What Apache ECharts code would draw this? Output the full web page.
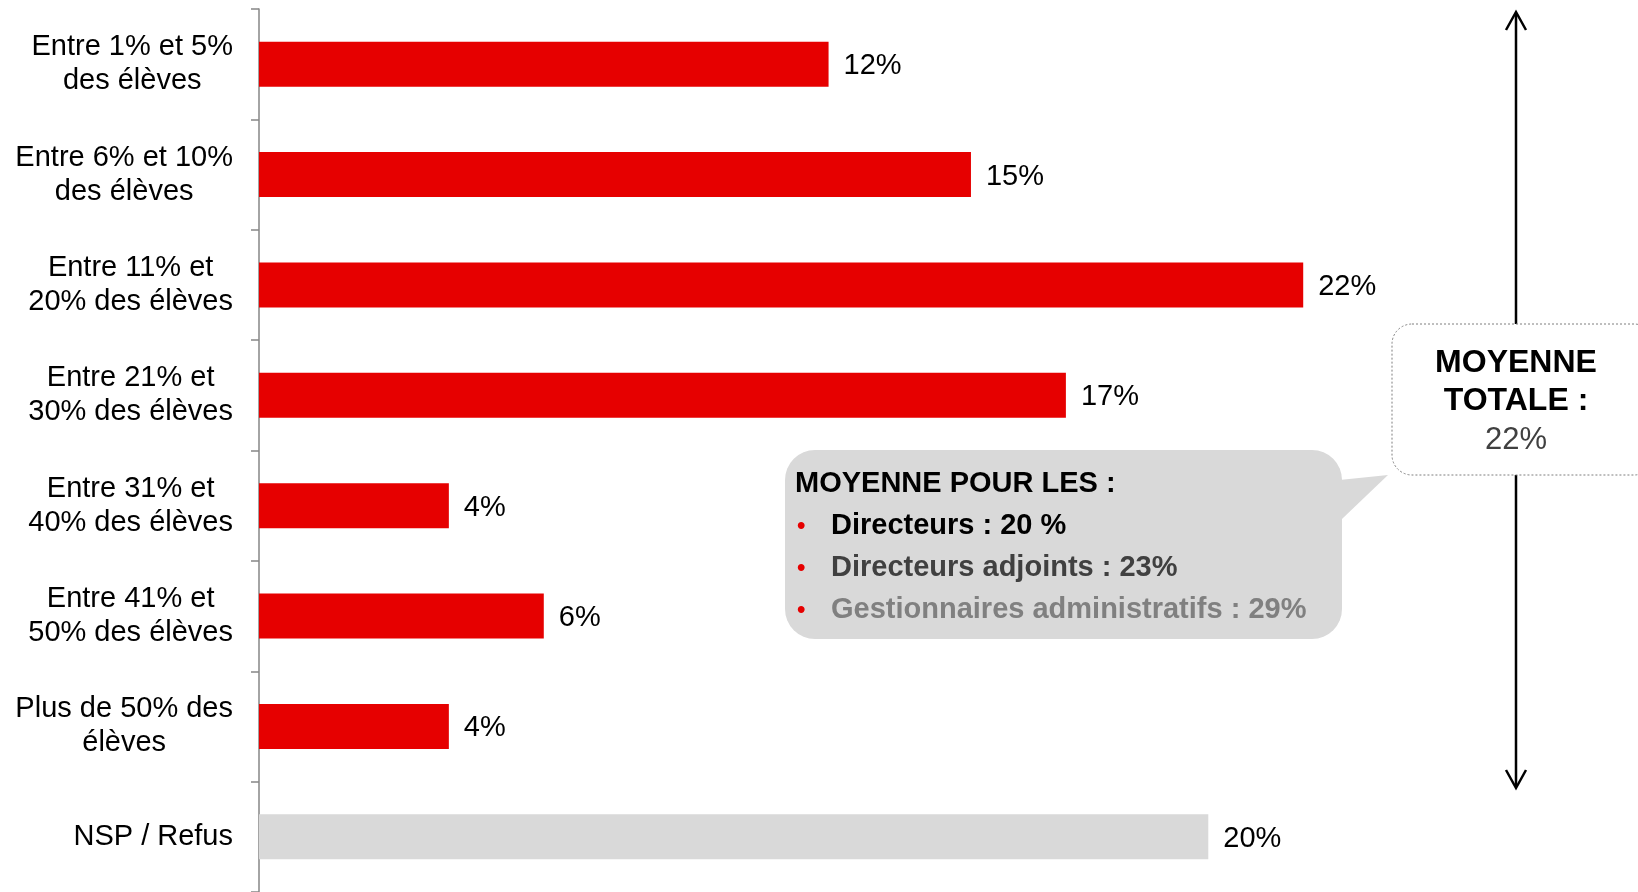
<!DOCTYPE html>
<html>
<head>
<meta charset="utf-8">
<script src="https://cdn.jsdelivr.net/npm/echarts@6/dist/echarts.min.js"></script>
<style>
  html, body { margin: 0; padding: 0; background: #fff; }
  #chart { width: 1638px; height: 892px; }
</style>
</head>
<body>
<div id="chart"></div>
<script>
// tranches de réponse
const categories = [
  'Entre 1% et 5%\ndes élèves',
  'Entre 6% et 10%\ndes élèves',
  'Entre 11% et\n20% des élèves',
  'Entre 21% et\n30% des élèves',
  'Entre 31% et\n40% des élèves',
  'Entre 41% et\n50% des élèves',
  'Plus de 50% des\nélèves',
  'NSP / Refus'
];
const values = [12, 15, 22, 17, 4, 6, 4, 20];

// moyennes par profil
const groupNames = ['Directeurs : 20 %', 'Directeurs adjoints : 23%', 'Gestionnaires administratifs : 29%'];
const groupColors = ['#000000', '#404040', '#808080'];
const totalLabel = ['MOYENNE', 'TOTALE :'];
const totalValue = '22%';

const FONT = 'Liberation Sans, Arial, sans-serif';
const RED = '#E60000';
const GREY = '#D9D9D9';

let chart = echarts.init(document.getElementById('chart'));

let graphics = [];

// fleche verticale
graphics.push({
  type: 'line', z: 10,
  shape: { x1: 1516, y1: 13, x2: 1516, y2: 787 },
  style: { stroke: '#000', lineWidth: 2.5 }
});
graphics.push({
  type: 'polyline', z: 10,
  shape: { points: [[1506, 30], [1516, 12], [1526, 30]] },
  style: { stroke: '#000', lineWidth: 2.5, fill: null }
});
graphics.push({
  type: 'polyline', z: 10,
  shape: { points: [[1506, 770], [1516, 788], [1526, 770]] },
  style: { stroke: '#000', lineWidth: 2.5, fill: null }
});

// encadre moyenne totale
graphics.push({
  type: 'rect', z: 20,
  shape: { x: 1392, y: 324, width: 262, height: 151, r: 20 },
  style: { fill: '#fff', stroke: '#7f7f7f', lineWidth: 1, lineDash: [2, 2] }
});
totalLabel.forEach((t, i) => {
  graphics.push({
    type: 'text', z: 21, x: 1516, y: 363 + i * 38,
    style: { text: t, font: '700 32px ' + FONT, fill: '#000', align: 'center', verticalAlign: 'middle' }
  });
});
graphics.push({
  type: 'text', z: 21, x: 1516, y: 440,
  style: { text: totalValue, font: '31px ' + FONT, fill: '#404040', align: 'center', verticalAlign: 'middle' }
});

// bulle des moyennes
graphics.push({
  type: 'polygon', z: 20,
  shape: { points: [[1320, 482], [1388, 475], [1320, 540]] },
  style: { fill: GREY }
});
graphics.push({
  type: 'rect', z: 20,
  shape: { x: 785, y: 450, width: 557, height: 189, r: 30 },
  style: { fill: GREY }
});
graphics.push({
  type: 'text', z: 21, x: 795, y: 484,
  style: { text: 'MOYENNE POUR LES :', font: '700 29px ' + FONT, fill: '#000', verticalAlign: 'middle' }
});
groupNames.forEach((t, i) => {
  let y = 526 + i * 42;
  graphics.push({
    type: 'text', z: 21, x: 797, y: y,
    style: { text: '•', font: '700 24px ' + FONT, fill: '#E60000', verticalAlign: 'middle' }
  });
  graphics.push({
    type: 'text', z: 21, x: 831, y: y,
    style: { text: t, font: '700 29px ' + FONT, fill: groupColors[i], verticalAlign: 'middle' }
  });
});

let option = {
  animation: false,
  grid: { left: 259, top: 9, width: 1329, height: 886, containLabel: false },
  xAxis: {
    type: 'value', min: 0, max: 28,
    show: false
  },
  yAxis: {
    type: 'category',
    inverse: true,
    data: categories,
    axisLine: { show: true, lineStyle: { color: '#868686', width: 1.5 } },
    axisTick: { show: true, alignWithLabel: false, length: 8, lineStyle: { color: '#868686', width: 1.5 } },
    axisLabel: {
      margin: 26,
      color: '#000',
      fontFamily: FONT,
      fontSize: 29,
      lineHeight: 34,
      formatter: v => v.split('\n').map(s => '{c|' + s + '}').join('\n'),
      rich: {
        c: { align: 'center', fontFamily: FONT, fontSize: 29, lineHeight: 34, color: '#000' }
      }
    }
  },
  series: [
    {
      type: 'bar',
      data: values,
      barWidth: 45,
      itemStyle: {
        color: p => (p.dataIndex === values.length - 1 ? GREY : RED)
      },
      label: {
        show: true,
        position: 'right',
        distance: 15,
        offset: [0, 2],
        formatter: '{c}%',
        color: '#000',
        fontFamily: FONT,
        fontSize: 29
      }
    }
  ],
  graphic: graphics
};

chart.setOption(option);
</script>
</body>
</html>
